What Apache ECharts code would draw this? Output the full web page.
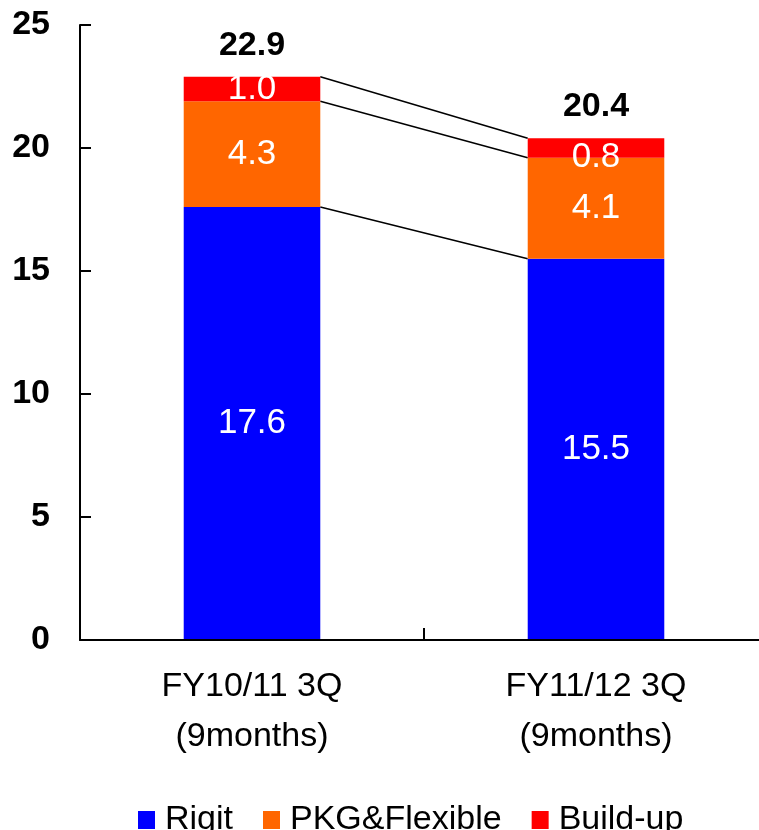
<!DOCTYPE html>
<html>
<head>
<meta charset="utf-8">
<script src="https://cdn.jsdelivr.net/npm/echarts@6/dist/echarts.min.js"></script>
<style>
  html, body { margin: 0; padding: 0; background: #fff; overflow: hidden; }
  #chart { width: 780px; height: 830px; }
</style>
</head>
<body>
<div id="chart"></div>
<script>
// Sales breakdown by product line (stacked), two fiscal periods
const categories = ['FY10/11 3Q\n(9months)', 'FY11/12 3Q\n(9months)'];
const rigit = [17.6, 15.5];
const pkgFlexible = [4.3, 4.1];
const buildUp = [1.0, 0.8];
const totals = [22.9, 20.4];
const yTicks = { min: 0, max: 25, interval: 5 };

const FONT = '"Liberation Sans", Arial, sans-serif';
const BAR_RATIO = 0.397;

// Boundary levels joined by connector lines between the two bars
const levels = [
  [0, rigit[0], rigit[1]],
  [0, rigit[0] + pkgFlexible[0], rigit[1] + pkgFlexible[1]],
  [0, totals[0], totals[1]]
];

const innerLabel = {
  show: true,
  position: 'inside',
  color: '#fff',
  fontFamily: FONT,
  fontSize: 35,
  formatter: p => p.value.toFixed(1)
};

const chart = echarts.init(document.getElementById('chart'), null, { renderer: 'canvas' });

chart.setOption({
  animation: false,
  backgroundColor: '#fff',
  grid: { left: 80, top: 25, width: 688, height: 615, containLabel: false },
  legend: {
    left: 133,
    top: 798,
    icon: 'rect',
    itemWidth: 17,
    itemHeight: 18,
    itemGap: 30,
    textStyle: { fontFamily: FONT, fontSize: 34, color: '#000', padding: [0, 0, 0, 5] },
    data: ['Rigit', 'PKG&Flexible', 'Build-up']
  },
  xAxis: {
    type: 'category',
    data: categories,
    z: 10,
    axisLine: { lineStyle: { color: '#000', width: 2 } },
    axisTick: { show: true, interval: 0, inside: true, length: 12, lineStyle: { color: '#000', width: 2 } },
    axisLabel: {
      color: '#000',
      fontFamily: FONT,
      fontSize: 34,
      lineHeight: 50,
      margin: 22
    }
  },
  yAxis: {
    type: 'value',
    min: yTicks.min,
    max: yTicks.max,
    interval: yTicks.interval,
    axisLine: { show: true, lineStyle: { color: '#000', width: 2 } },
    axisTick: { show: true, inside: true, length: 11, lineStyle: { color: '#000', width: 2 } },
    splitLine: { show: false },
    axisLabel: {
      color: '#000',
      fontFamily: FONT,
      fontWeight: 'bold',
      fontSize: 34,
      margin: 30
    }
  },
  series: [
    {
      name: 'Rigit',
      type: 'bar',
      stack: 'sales',
      barWidth: (BAR_RATIO * 100) + '%',
      itemStyle: { color: '#0000FF' },
      label: innerLabel,
      data: rigit
    },
    {
      name: 'PKG&Flexible',
      type: 'bar',
      stack: 'sales',
      itemStyle: { color: '#FF6600' },
      label: innerLabel,
      data: pkgFlexible
    },
    {
      name: 'Build-up',
      type: 'bar',
      stack: 'sales',
      itemStyle: { color: '#FF0000' },
      label: innerLabel,
      data: buildUp.map((v, i) => i === 1 ? { value: v, label: { offset: [0, 9] } } : v)
    },
    {
      // total value above each stack
      name: 'total',
      type: 'scatter',
      symbolSize: 1,
      silent: true,
      itemStyle: { opacity: 0 },
      label: {
        show: true,
        position: 'top',
        distance: 14,
        color: '#000000',
        opacity: 1,
        fontFamily: FONT,
        fontWeight: 'bold',
        fontSize: 34,
        formatter: p => p.value.toFixed(1)
      },
      data: totals
    },
    {
      // connector lines between segment tops of adjacent bars
      name: 'connectors',
      type: 'custom',
      silent: true,
      renderItem: (params, api) => {
        const half = api.size([1, 0])[0] * BAR_RATIO / 2;
        const a = api.coord([0, api.value(1)]);
        const b = api.coord([1, api.value(2)]);
        return {
          type: 'line',
          shape: { x1: a[0] + half, y1: a[1], x2: b[0] - half, y2: b[1] },
          style: { stroke: '#000', lineWidth: 1.5 }
        };
      },
      encode: { x: 0, y: 1 },
      data: levels,
      z: 1
    }
  ]
});
</script>
</body>
</html>
